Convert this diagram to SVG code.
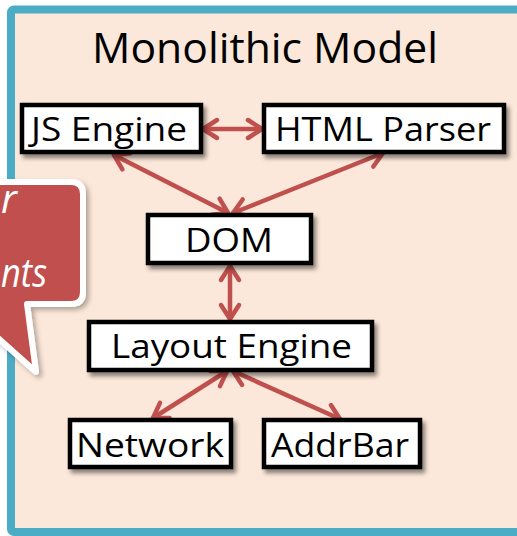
<svg xmlns="http://www.w3.org/2000/svg" width="517" height="536" viewBox="0 0 517 536">
  <defs>
    <filter id="shadow" x="-20%" y="-20%" width="140%" height="150%">
      <feDropShadow dx="3" dy="4" stdDeviation="2.2" flood-color="#000" flood-opacity="0.45"/>
    </filter>
    <filter id="calloutShadow" x="-20%" y="-20%" width="140%" height="140%">
      <feDropShadow dx="3" dy="3" stdDeviation="2.5" flood-color="#000" flood-opacity="0.3"/>
    </filter>
    <marker id="head" viewBox="-18 -12 22 24" refX="0" refY="0" markerWidth="22" markerHeight="24" markerUnits="userSpaceOnUse" orient="auto-start-reverse" overflow="visible">
      <path d="M -14 -9 L 0 0 L -14 9" fill="none" stroke="#C0504D" stroke-width="4.5" stroke-linecap="round" stroke-linejoin="round"/>
    </marker>
    <style>
      .box { fill: #FFFFFF; stroke: #000000; stroke-width: 4.5; filter: url(#shadow); }
      .label { font-family: "Open Sans", "Liberation Sans", sans-serif; font-size: 33px; fill: #000000; }
      .title { font-family: "Open Sans", "Liberation Sans", sans-serif; font-size: 42px; fill: #000000; }
      .link { stroke: #C0504D; stroke-width: 4.5; fill: none; stroke-linecap: round; marker-start: url(#head); marker-end: url(#head); }
      .callout-text { font-family: "Open Sans", "DejaVu Sans", sans-serif; font-style: italic; font-size: 40px; fill: #FFFFFF; }
    </style>
  </defs>

  <!-- page background -->
  <rect x="0" y="0" width="517" height="536" fill="#FFFFFF"/>

  <!-- panel frame -->
  <rect id="frame" x="11" y="9.5" width="510" height="522.5" rx="3" fill="#FCE8DA" stroke="#4BACC6" stroke-width="8"/>

  <text class="title" x="92" y="63" textLength="346" lengthAdjust="spacingAndGlyphs">Monolithic Model</text>

  <!-- connectors -->
  <g id="connectors">
    <line class="link" x1="203" y1="129" x2="262" y2="129"/>
    <line class="link" x1="114" y1="155" x2="228" y2="213"/>
    <line class="link" x1="383" y1="153" x2="233" y2="213"/>
    <line class="link" x1="230" y1="266" x2="230" y2="319"/>
    <line class="link" x1="227" y1="371" x2="153" y2="418"/>
    <line class="link" x1="233" y1="371" x2="340" y2="419"/>
  </g>

  <!-- nodes -->
  <g id="js-engine">
    <rect class="box" x="22" y="105" width="179" height="47"/>
    <text class="label" x="31" y="141" textLength="156" lengthAdjust="spacingAndGlyphs">JS Engine</text>
  </g>
  <g id="html-parser">
    <rect class="box" x="264" y="105" width="240" height="47"/>
    <text class="label" x="275" y="141" textLength="216" lengthAdjust="spacingAndGlyphs">HTML Parser</text>
  </g>
  <g id="dom">
    <rect class="box" x="148" y="215" width="163" height="48"/>
    <text class="label" x="185" y="252" textLength="88" lengthAdjust="spacingAndGlyphs">DOM</text>
  </g>
  <g id="layout-engine">
    <rect class="box" x="89" y="322" width="283" height="48"/>
    <text class="label" x="111" y="358" textLength="241" lengthAdjust="spacingAndGlyphs">Layout Engine</text>
  </g>
  <g id="network">
    <rect class="box" x="70" y="420" width="161" height="47"/>
    <text class="label" x="76" y="457" textLength="148" lengthAdjust="spacingAndGlyphs">Network</text>
  </g>
  <g id="addrbar">
    <rect class="box" x="264" y="420" width="156" height="47"/>
    <text class="label" x="271" y="457" textLength="138" lengthAdjust="spacingAndGlyphs">AddrBar</text>
  </g>

  <!-- speech callout at the left edge -->
  <g id="callout">
    <path d="M -60 182 H 71 Q 83 182 83 194 V 292 Q 83 304 71 304 H 27 L 36 372 L -20 322 L -60 304 Z" fill="#C0504D" stroke="#FFFFFF" stroke-width="6" stroke-linejoin="round" filter="url(#calloutShadow)"/>
    <text class="callout-text" x="1" y="213">r</text>
    <text class="callout-text" x="1" y="287" textLength="46" lengthAdjust="spacingAndGlyphs">nts</text>
  </g>
</svg>
